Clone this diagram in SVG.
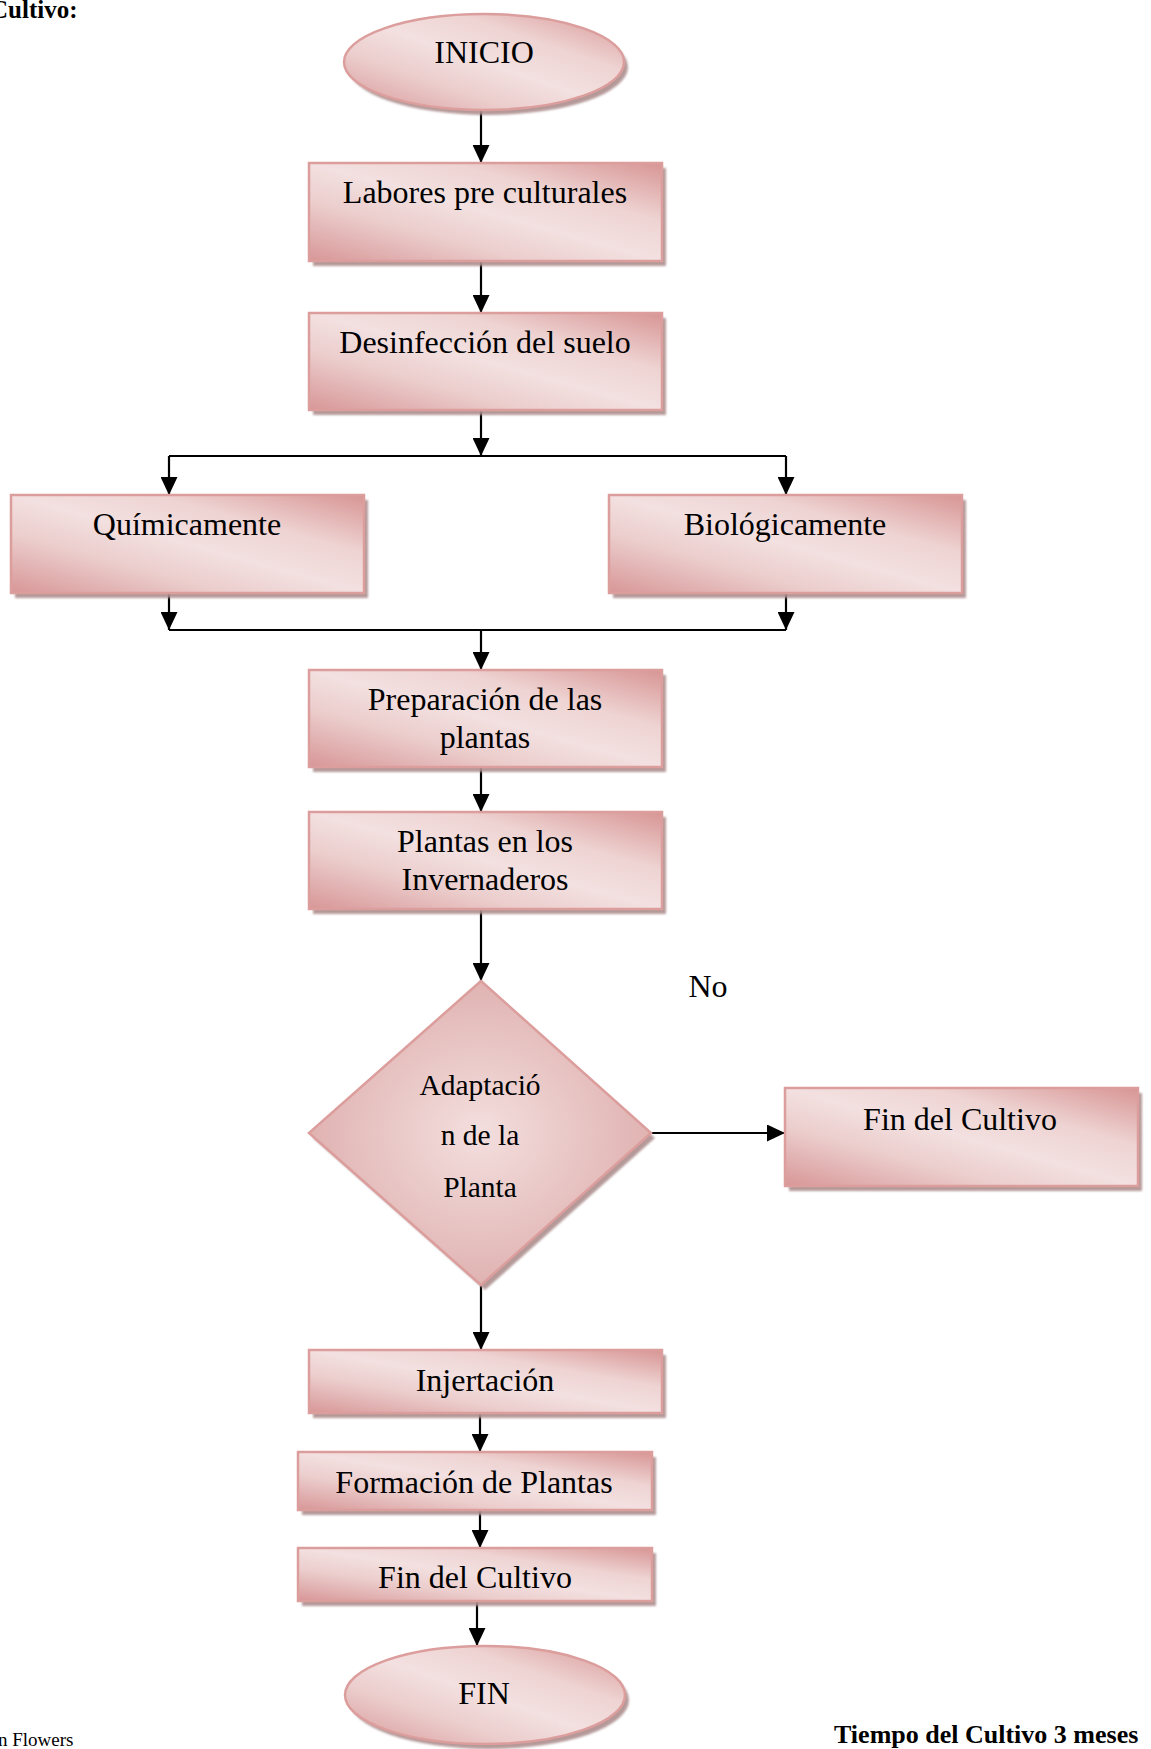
<svg xmlns="http://www.w3.org/2000/svg" width="1151" height="1749" viewBox="0 0 1151 1749">
<style>
.t{font-family:"Liberation Serif","Times New Roman",serif;font-size:32px;fill:#000;text-anchor:middle}
.d{font-family:"Liberation Serif","Times New Roman",serif;font-size:29.5px;fill:#000;text-anchor:middle}
.b{font-family:"Liberation Serif","Times New Roman",serif;font-weight:bold;font-size:26px;fill:#000}
.s{font-family:"Liberation Serif","Times New Roman",serif;font-size:19px;fill:#000}
.box{fill:url(#boxGrad);stroke:#dc9e9d;stroke-width:2.5}
.dia{fill:url(#diaGrad);stroke:#dc9e9d;stroke-width:2.5}
.sh{fill:#ae8f8f;opacity:0.9;filter:url(#blur)}
.c{fill:none;stroke:#000;stroke-width:2.2;marker-end:url(#arr)}
.l{fill:none;stroke:#000;stroke-width:2.2}
</style>
<defs>
<linearGradient id="boxGrad" x1="0" y1="1" x2="1" y2="0">
<stop offset="0" stop-color="#d89697"/>
<stop offset="0.3" stop-color="#ebcdcc"/>
<stop offset="0.5" stop-color="#f3e0e0"/>
<stop offset="0.7" stop-color="#eed4d3"/>
<stop offset="1" stop-color="#d79594"/>
</linearGradient>
<radialGradient id="diaGrad" cx="0.5" cy="0.5" r="0.6">
<stop offset="0" stop-color="#f3dfde"/>
<stop offset="1" stop-color="#dcaaa9"/>
</radialGradient>
<filter id="blur" x="-5%" y="-5%" width="110%" height="110%">
<feGaussianBlur stdDeviation="1"/>
</filter>
<marker id="arr" markerUnits="userSpaceOnUse" markerWidth="18" markerHeight="17" refX="18" refY="8.5" orient="auto">
<path d="M0,0 L18,8.5 L0,17 Z" fill="#000"/>
</marker>
</defs>

<text class="b" x="-10" y="18" style="font-size:25px">Cultivo:</text>

<g id="connectors">
<path class="c" d="M481 110 V163"/>
<path class="c" d="M481 261 V313"/>
<path class="c" d="M481 410 V456"/>
<path class="l" d="M169 456 H786"/>
<path class="c" d="M169 456 V495"/>
<path class="c" d="M786 456 V495"/>
<path class="c" d="M169 593 V630"/>
<path class="c" d="M786 593 V630"/>
<path class="l" d="M169 630 H786"/>
<path class="c" d="M481 630 V670"/>
<path class="c" d="M481 767 V812"/>
<path class="c" d="M481 909 V981"/>
<path class="c" d="M651 1133 H785"/>
<path class="c" d="M481 1285 V1350"/>
<path class="c" d="M480 1413 V1452"/>
<path class="c" d="M480 1510 V1548"/>
<path class="c" d="M477 1601 V1646"/>
</g>

<g id="inicio">
<ellipse class="sh" cx="488" cy="67" rx="140" ry="48"/>
<ellipse class="box" cx="484" cy="62" rx="140" ry="48"/>
<text class="t" x="484" y="63">INICIO</text>
</g>

<g id="labores">
<rect class="sh" x="313" y="168" width="353" height="98"/>
<rect class="box" x="309" y="163" width="353" height="98"/>
<text class="t" x="485" y="203">Labores pre culturales</text>
</g>

<g id="desinfeccion">
<rect class="sh" x="313" y="318" width="353" height="97"/>
<rect class="box" x="309" y="313" width="353" height="97"/>
<text class="t" x="485" y="353">Desinfección del suelo</text>
</g>

<g id="quimicamente">
<rect class="sh" x="15" y="500" width="353" height="98"/>
<rect class="box" x="11" y="495" width="353" height="98"/>
<text class="t" x="187" y="535">Químicamente</text>
</g>

<g id="biologicamente">
<rect class="sh" x="613" y="500" width="353" height="98"/>
<rect class="box" x="609" y="495" width="353" height="98"/>
<text class="t" x="785" y="535">Biológicamente</text>
</g>

<g id="preparacion">
<rect class="sh" x="313" y="675" width="353" height="97"/>
<rect class="box" x="309" y="670" width="353" height="97"/>
<text class="t" x="485" y="710">Preparación de las</text>
<text class="t" x="485" y="748">plantas</text>
</g>

<g id="invernaderos">
<rect class="sh" x="313" y="817" width="353" height="97"/>
<rect class="box" x="309" y="812" width="353" height="97"/>
<text class="t" x="485" y="852">Plantas en los</text>
<text class="t" x="485" y="890">Invernaderos</text>
</g>

<g id="adaptacion">
<path class="sh" d="M485 986 L655 1138 L485 1290 L313 1138 Z"/>
<path class="dia" d="M481 981 L651 1133 L481 1285 L309 1133 Z"/>
<text class="d" x="480" y="1095">Adaptació</text>
<text class="d" x="480" y="1145">n de la</text>
<text class="d" x="480" y="1197">Planta</text>
</g>

<text id="label-no" class="t" x="708" y="997">No</text>

<g id="fin-cultivo-no">
<rect class="sh" x="789" y="1093" width="353" height="98"/>
<rect class="box" x="785" y="1088" width="353" height="98"/>
<text class="t" x="960" y="1130">Fin del Cultivo</text>
</g>

<g id="injertacion">
<rect class="sh" x="313" y="1355" width="353" height="63"/>
<rect class="box" x="309" y="1350" width="353" height="63"/>
<text class="t" x="485" y="1391">Injertación</text>
</g>

<g id="formacion">
<rect class="sh" x="302" y="1457" width="354" height="58"/>
<rect class="box" x="298" y="1452" width="354" height="58"/>
<text class="t" x="474" y="1493">Formación de Plantas</text>
</g>

<g id="fin-cultivo">
<rect class="sh" x="302" y="1553" width="354" height="53"/>
<rect class="box" x="298" y="1548" width="354" height="53"/>
<text class="t" x="475" y="1588">Fin del Cultivo</text>
</g>

<g id="fin">
<ellipse class="sh" cx="489" cy="1700" rx="140" ry="49"/>
<ellipse class="box" cx="485" cy="1695" rx="140" ry="49"/>
<text class="t" x="484" y="1704">FIN</text>
</g>

<text class="s" x="-2" y="1746">n Flowers</text>
<text class="b" x="834" y="1743">Tiempo del Cultivo 3 meses</text>
</svg>
